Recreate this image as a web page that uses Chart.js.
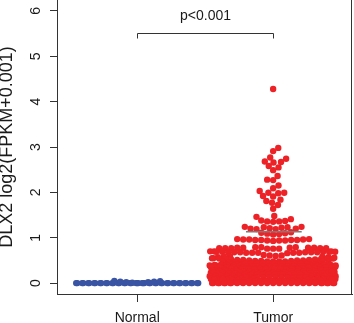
<!DOCTYPE html>
<html><head><meta charset="utf-8">
<script src="https://cdn.jsdelivr.net/npm/chart.js@4.4.0/dist/chart.umd.min.js"></script>
<style>html,body{margin:0;padding:0;background:#fff;}canvas{display:block;}</style>
</head><body>
<canvas id="c" width="354" height="323"></canvas>
<script>
// ---------- data ----------
const categories = ['Normal', 'Tumor'];
const yTicks = [0, 1, 2, 3, 4, 5, 6];
const yTitle = 'DLX2 log2(FPKM+0.001)';
const pLabel = 'p<0.001';
const normalValues = [
  0,0,0,0,0,0,0,0,0,0,0,0,0,0,0,0,0,0,0,0,0,0,
  0,0,0,0,0,0,0,0,0,0,0,0,0,0,0,0,0,0,0,0,0,0,
  0.01,0.02,0.02,0.03,0.03,0.04,0.05
];
const tumorValues = [
  4.28,
  2.98,2.91,2.77,2.74,2.68,2.67,2.66,2.58,2.55,2.49,2.36,2.28,2.27,2.15,2.09,
  2.03,1.99,1.99,1.98,1.92,1.91,1.84,1.81,1.77,1.72,1.64,
  1.48,1.46,1.41,1.38,1.36,1.35,1.36,1.37,
  1.24,1.23,1.21,1.2,1.19,1.19,1.2,1.22,1.24,1.23,
  1.12,1.1,1.08,1.11,1.09,1.07,
  0.97,0.96,0.95,0.95,0.94,0.96,0.95,0.93,0.97,0.94,0.95,0.96,0.94,
  0.79,0.78,0.77,0.78,0.76,0.79,0.77,0.78,0.76,0.77,0.79,0.78,0.77,0.76,0.78,0.77,
  0.7,0.69,0.68,0.67,0.69,0.68,0.7,0.67,0.68,0.69,0.67,0.68,0.7,0.69,0.68,0.67,0.69,0.68,0.66,0.67,
  0.62,0.61,0.6,0.59,0.61,
  0.58,0.57,0.56,0.57,0.58,
  0.55,0.54,0.53,0.54,0.55,0.53,0.54,
  0.52,0.51,0.5,0.51,0.52,0.5,0.51,0.5,
  0.49,0.48,0.47,0.48,0.49,0.47,0.48,0.49,0.47,0.48,
  0.46,0.45,0.44,0.45,0.46,0.44,0.45,0.46,0.44,0.45,0.46,0.44,0.45,0.46,0.44,
  0.43,0.42,0.41,0.42,0.43,0.41,0.42,0.43,0.41,0.42,0.41,0.43,0.42,0.41,0.43,0.42,0.41,
  0.4,0.39,0.38,0.39,0.4,0.38,0.39,0.4,0.38,0.39,0.4,0.38,0.39,0.4,0.38,0.39,0.4,0.38,
  0.37,0.36,0.35,0.36,0.37,0.35,0.36,0.37,0.35,0.36,0.37,0.35,0.36,0.37,0.35,0.36,0.37,0.35,0.36,
  0.34,0.33,0.32,0.33,0.34,0.32,0.33,0.34,0.32,0.33,0.34,0.32,0.33,0.34,0.32,0.33,0.34,0.32,0.33,
  0.31,0.3,0.29,0.3,0.31,0.29,0.3,0.31,0.29,0.3,0.31,0.29,0.3,0.31,0.29,0.3,0.31,0.29,0.3,
  0.28,0.27,0.26,0.27,0.28,0.26,0.27,0.28,0.26,0.27,0.28,0.26,0.27,0.28,0.26,0.27,0.28,0.26,
  0.25,0.24,0.23,0.24,0.25,0.23,0.24,0.25,0.23,0.24,0.25,0.23,0.24,0.25,0.23,0.24,0.25,0.23,
  0.22,0.21,0.2,0.21,0.22,0.2,0.21,0.22,0.2,0.21,0.22,0.2,0.21,0.22,0.2,0.21,
  0.19,0.18,0.17,0.18,0.19,0.17,0.18,0.19,0.17,0.18,0.19,0.17,0.18,0.19,0.17,0.18,
  0.16,0.15,0.14,0.15,0.16,0.14,0.15,0.16,0.14,0.15,0.16,0.14,0.15,0.16,0.14,0.15,
  0.13,0.12,0.11,0.12,0.13,0.11,0.12,0.13,0.11,0.12,0.13,0.11,0.12,0.13,0.11,0.12,
  0.1,0.09,0.08,0.09,0.1,0.08,0.09,0.1,0.08,0.09,0.1,0.08,0.09,0.1,0.08,0.09,
  0.07,0.06,0.05,0.06,0.07,0.05,0.06,0.07,0.05,0.06,0.07,0.05,0.06,0.07,0.05,0.06,
  0.04,0.03,0.02,0.03,0.04,0.02,0.03,0.04,0.02,0.03,0.04,0.02,0.03,0.04,
  0,0,0,0,0,0,0,0,0,0,0,0,0,0,0,0,0,0,0,0,0,0,0,0,0,0,0,0
];
// summary segment levels drawn on the Tumor swarm
const tumorUpperLine = 1.13;
const tumorMidLine = 0.49;
// significance bracket level
const bracketLevel = 5.51;

// ---------- style / layout ----------
const FONT = '"Liberation Sans", Arial, Helvetica, sans-serif';
const INK = '#1a1a1a';
const AXIS = '#333333';
const BLUE = '#3A54A4';
const RED = '#EC2227';
const DOT_R = 3.2;
const SWARM_D = 6;     // px, collision distance
const WRAP_W = 127;    // px, corral width (wrap)

function swarmOffsets(vals, py) {
  const idx = vals.map((v, i) => i).sort((a, b) => vals[a] - vals[b] || a - b);
  const placed = [];
  const out = new Array(vals.length).fill(0);
  const D2 = SWARM_D * SWARM_D;
  for (const i of idx) {
    const y = py[i];
    const near = placed.filter(p => Math.abs(p.y - y) < SWARM_D);
    const cands = [0];
    for (const p of near) {
      const dx = Math.sqrt(D2 - (p.y - y) * (p.y - y));
      cands.push(p.x + dx, p.x - dx);
    }
    cands.sort((a, b) => Math.abs(a) - Math.abs(b) || b - a);
    let x = 0;
    for (const c of cands) {
      let ok = true;
      for (const p of near) {
        const ddx = p.x - c, ddy = p.y - y;
        if (ddx * ddx + ddy * ddy < D2 - 1e-6) { ok = false; break; }
      }
      if (ok) { x = c; break; }
    }
    placed.push({x, y});
    out[i] = x;
  }
  return out.map(o => ((o + WRAP_W / 2) % WRAP_W + WRAP_W) % WRAP_W - WRAP_W / 2);
}

const extras = {
  id: 'extras',
  afterDraw(chart) {
    const {ctx, chartArea, scales: {x, y}} = chart;
    ctx.save();
    ctx.strokeStyle = AXIS;
    ctx.lineWidth = 1;
    // right frame line
    ctx.beginPath();
    ctx.moveTo(Math.round(chartArea.right) - 0.5, 0);
    ctx.lineTo(Math.round(chartArea.right) - 0.5, chartArea.bottom + 0.5);
    ctx.stroke();
    // bracket
    const x1 = Math.round(x.getPixelForValue(1)) + 0.5;
    const x2 = Math.round(x.getPixelForValue(2)) + 0.5;
    const yb = Math.round(y.getPixelForValue(bracketLevel)) + 0.5;
    ctx.beginPath();
    ctx.moveTo(x1, yb + 5); ctx.lineTo(x1, yb); ctx.lineTo(x2, yb); ctx.lineTo(x2, yb + 5);
    ctx.stroke();
    ctx.fillStyle = INK;
    ctx.font = '14px ' + FONT;
    ctx.textAlign = 'center';
    ctx.textBaseline = 'alphabetic';
    ctx.fillText(pLabel, (x1 + x2) / 2, yb - 14);
    ctx.restore();
  }
};

const chart = new Chart(document.getElementById('c'), {
  type: 'scatter',
  data: {
    datasets: [
      {label: categories[0], data: normalValues.map(v => ({x: 1, y: v})), backgroundColor: BLUE, borderWidth: 0, pointRadius: DOT_R, order: 1},
      {label: categories[1], data: tumorValues.map(v => ({x: 2, y: v})), backgroundColor: RED, borderWidth: 0, pointRadius: DOT_R, order: 1},
      {type: 'line', label: 'upper', data: [{x: 1.8, y: tumorUpperLine}, {x: 2.21, y: tumorUpperLine}], borderColor: '#7a7a7a', borderWidth: 1.5, pointRadius: 0, showLine: true, order: 0},
      {type: 'line', label: 'mid', data: [{x: 1.87, y: tumorMidLine}, {x: 2.14, y: tumorMidLine}], borderColor: '#333', borderWidth: 1.2, pointRadius: 0, showLine: true, order: 5}
    ]
  },
  options: {
    responsive: false,
    animation: false,
    events: [],
    layout: {autoPadding: false, padding: {top: 0, right: 2, left: 0, bottom: 0}},
    plugins: {legend: {display: false}, tooltip: {enabled: false}},
    scales: {
      x: {
        type: 'linear', min: 0.41, max: 2.58,
        afterBuildTicks: s => { s.ticks = categories.map((c, i) => ({value: i + 1})); },
        afterFit: s => { s.height = 29; s.paddingLeft = 0; s.paddingRight = 0; },
        ticks: {callback: v => categories[v - 1], font: {family: FONT, size: 14}, color: INK, padding: 8, autoSkip: false, maxRotation: 0},
        grid: {drawOnChartArea: false, drawTicks: true, tickLength: 8, color: AXIS},
        border: {display: true, color: AXIS, width: 1}
      },
      y: {
        type: 'linear', min: -0.24, max: 6.24,
        afterBuildTicks: s => { s.ticks = yTicks.map(v => ({value: v})); },
        afterFit: s => { s.width = 57; s.paddingTop = 0; s.paddingBottom = 0; },
        ticks: {font: {family: FONT, size: 14}, color: INK, minRotation: 90, maxRotation: 90, crossAlign: 'center', padding: 10},
        grid: {drawOnChartArea: false, drawTicks: true, tickLength: 7, color: AXIS},
        border: {display: true, color: AXIS, width: 1},
        title: {display: true, text: yTitle, color: INK, font: {family: FONT, size: 18, lineHeight: 0.8}, padding: 0}
      }
    }
  },
  plugins: [extras]
});

// beeswarm layout computed in pixel space through the chart's own scales
(function layoutSwarm() {
  const xs = chart.scales.x, ys = chart.scales.y;
  [[0, normalValues, 1], [1, tumorValues, 2]].forEach(([di, vals, cx]) => {
    const cpx = xs.getPixelForValue(cx);
    const py = vals.map(v => ys.getPixelForValue(v));
    const offs = swarmOffsets(vals, py);
    chart.data.datasets[di].data = vals.map((v, i) => ({x: xs.getValueForPixel(cpx + offs[i]), y: v}));
  });
  chart.update('none');
})();
</script>
</body></html>
